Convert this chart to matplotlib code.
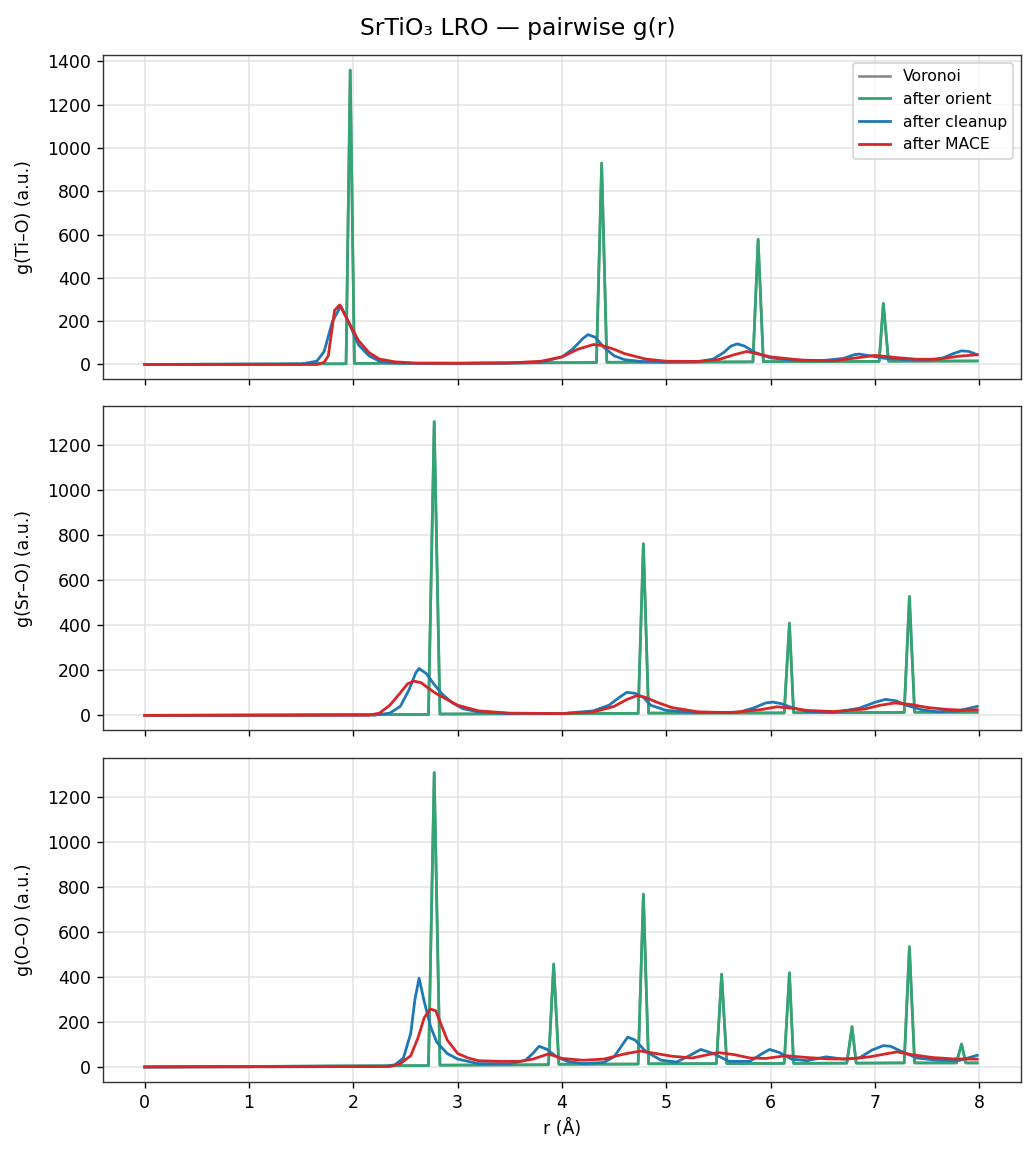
import matplotlib
matplotlib.use('Agg')
import matplotlib.pyplot as plt
from matplotlib.ticker import MultipleLocator

# Colors
c_vor = '#888888'
c_orient = '#33a474'
c_clean = '#1f77b4'
c_mace = '#d62728'

pairs = ['Ti–O', 'Sr–O', 'O–O']

# --- Ti-O ---
tio_orient_r = [0.0, 1.3, 1.6, 1.93, 1.97, 2.01, 3.0, 4.33, 4.38, 4.43, 5.83, 5.88, 5.93, 7.04, 7.08, 7.13, 7.98]
tio_orient_g = [0, 2, 3, 3, 1360, 5, 6, 9, 930, 10, 12, 578, 13, 14, 282, 15, 16]
tio_clean_r = [0.0, 1.5, 1.65, 1.72, 1.8, 1.88, 1.95, 2.05, 2.15, 2.25, 2.4, 2.6, 3.0, 3.5, 3.8, 4.0, 4.1,
               4.2, 4.25, 4.32, 4.4, 4.5, 4.6, 4.75, 5.0, 5.3, 5.45, 5.55, 5.62, 5.68, 5.75, 5.85, 6.0,
               6.2, 6.5, 6.7, 6.8, 6.85, 6.95, 7.1, 7.3, 7.5, 7.65, 7.75, 7.83, 7.9, 7.98]
tio_clean_g = [0, 2, 15, 60, 200, 270, 200, 90, 40, 15, 7, 5, 5, 6, 10, 35, 70,
               120, 138, 125, 80, 40, 22, 14, 10, 12, 25, 55, 85, 95, 85, 55, 30,
               20, 18, 28, 45, 48, 40, 28, 22, 20, 30, 50, 63, 60, 45]
tio_mace_r = [0.0, 1.65, 1.72, 1.76, 1.82, 1.87, 1.95, 2.05, 2.15, 2.25, 2.4, 2.6, 3.0, 3.5, 3.8, 4.0,
              4.15, 4.3, 4.38, 4.5, 4.6, 4.8, 5.0, 5.3, 5.5, 5.65, 5.77, 5.85, 6.0, 6.3, 6.6, 6.85, 7.0,
              7.2, 7.4, 7.6, 7.8, 7.98]
tio_mace_g = [0, 0, 10, 40, 250, 275, 200, 110, 55, 25, 12, 6, 5, 7, 15, 35,
              70, 92, 88, 70, 50, 25, 15, 14, 22, 45, 60, 52, 35, 20, 17, 32, 42,
              32, 24, 24, 38, 45]

# --- Sr-O ---
sro_orient_r = [0.0, 1.3, 2.0, 2.72, 2.775, 2.83, 4.0, 4.73, 4.78, 4.83, 6.13, 6.18, 6.22, 7.28, 7.33, 7.38, 7.98]
sro_orient_g = [0, 2, 4, 4, 1303, 6, 8, 9, 761, 10, 11, 409, 12, 13, 527, 14, 14]
sro_clean_r = [0.0, 2.2, 2.35, 2.45, 2.53, 2.6, 2.63, 2.7, 2.77, 2.85, 2.95, 3.05, 3.2, 3.5, 4.0, 4.3,
               4.45, 4.55, 4.62, 4.7, 4.78, 4.85, 5.0, 5.3, 5.7, 5.85, 5.95, 6.02, 6.1, 6.2, 6.35, 6.6,
               6.85, 7.0, 7.1, 7.2, 7.3, 7.45, 7.6, 7.8, 7.98]
sro_clean_g = [0, 1, 10, 40, 110, 190, 208, 185, 140, 95, 55, 30, 15, 8, 8, 20,
               45, 80, 102, 98, 80, 45, 22, 12, 14, 35, 55, 59, 52, 35, 18, 12,
               32, 58, 71, 65, 45, 25, 16, 20, 40]
sro_mace_r = [0.0, 2.15, 2.25, 2.35, 2.45, 2.52, 2.58, 2.65, 2.72, 2.8, 2.9, 3.0, 3.2, 3.5, 4.0, 4.3,
              4.5, 4.62, 4.72, 4.8, 4.9, 5.05, 5.3, 5.6, 5.9, 6.06, 6.2, 6.35, 6.6, 6.9, 7.05, 7.19,
              7.35, 7.5, 7.7, 7.85, 7.98]
sro_mace_g = [0, 1, 10, 45, 100, 140, 152, 145, 120, 95, 70, 45, 20, 10, 8, 15,
              40, 70, 88, 80, 60, 35, 16, 12, 25, 38, 32, 22, 17, 28, 45, 55,
              48, 35, 26, 23, 25]

# --- O-O ---
oo_orient_r = [0.0, 1.3, 2.0, 2.72, 2.775, 2.83, 3.87, 3.92, 3.97, 4.73, 4.78, 4.83, 5.48, 5.53, 5.58,
               6.13, 6.18, 6.22, 6.73, 6.78, 6.82, 7.28, 7.33, 7.38, 7.78, 7.83, 7.87, 7.98]
oo_orient_g = [0, 3, 5, 6, 1310, 8, 10, 458, 12, 13, 769, 14, 15, 413, 15,
               16, 419, 16, 17, 179, 17, 18, 535, 18, 18, 102, 18, 18]
oo_clean_r = [0.0, 2.3, 2.4, 2.48, 2.55, 2.59, 2.63, 2.68, 2.74, 2.8, 2.9, 3.0, 3.2, 3.5, 3.65, 3.72,
              3.78, 3.85, 3.95, 4.05, 4.2, 4.4, 4.5, 4.58, 4.63, 4.7, 4.8, 4.95, 5.1, 5.22, 5.33, 5.45,
              5.6, 5.8, 5.92, 5.99, 6.08, 6.2, 6.35, 6.53, 6.7, 6.85, 6.97, 7.08, 7.15, 7.25, 7.4,
              7.6, 7.8, 7.98]
oo_clean_g = [0, 2, 10, 40, 150, 300, 395, 290, 180, 110, 60, 35, 15, 14, 30, 60,
              92, 80, 45, 25, 15, 20, 45, 100, 133, 120, 70, 30, 22, 50, 78, 60,
              25, 25, 60, 78, 65, 35, 28, 45, 35, 40, 75, 95, 92, 70, 40,
              30, 28, 52]
oo_mace_r = [0.0, 2.35, 2.45, 2.55, 2.62, 2.68, 2.74, 2.79, 2.84, 2.9, 3.0, 3.1, 3.2, 3.4, 3.6, 3.72,
             3.87, 4.0, 4.2, 4.4, 4.6, 4.75, 4.9, 5.05, 5.25, 5.4, 5.5, 5.65, 5.8, 5.95, 6.15, 6.35,
             6.55, 6.75, 6.95, 7.1, 7.21, 7.35, 7.55, 7.75, 7.98]
oo_mace_g = [0, 2, 15, 50, 130, 220, 258, 250, 190, 120, 60, 40, 28, 25, 25, 35,
             58, 38, 30, 35, 58, 71, 60, 48, 40, 55, 64, 55, 40, 38, 50, 42,
             36, 36, 45, 58, 67, 55, 42, 36, 35]

orient = [(tio_orient_r, tio_orient_g), (sro_orient_r, sro_orient_g), (oo_orient_r, oo_orient_g)]
voronoi = orient  # Voronoi curves coincide with the oriented ones
cleanup = [(tio_clean_r, tio_clean_g), (sro_clean_r, sro_clean_g), (oo_clean_r, oo_clean_g)]
mace = [(tio_mace_r, tio_mace_g), (sro_mace_r, sro_mace_g), (oo_mace_r, oo_mace_g)]

fig, axes = plt.subplots(3, 1, figsize=(8.28, 9.256), dpi=125, sharex=True)
fig.subplots_adjust(left=0.0995, right=0.9865, top=0.9525, bottom=0.0648, hspace=0.085)

for i, ax in enumerate(axes):
    ax.plot(*voronoi[i], color=c_vor, lw=1.5, label='Voronoi')
    ax.plot(*orient[i], color=c_orient, lw=1.6, label='after orient')
    ax.plot(*cleanup[i], color=c_clean, lw=1.6, label='after cleanup')
    ax.plot(*mace[i], color=c_mace, lw=1.6, label='after MACE')
    ax.set_ylabel(f'g({pairs[i]}) (a.u.)', fontsize=10, labelpad=8)
    ax.yaxis.set_major_locator(MultipleLocator(200))
    ax.grid(True, color='#dddddd', lw=0.9, alpha=0.8)
    ax.set_axisbelow(True)
    ax.tick_params(labelsize=10)
    for sp in ax.spines.values():
        sp.set_color('#333333')

axes[0].set_ylim(-67, 1430)
axes[1].set_ylim(-67, 1370)
axes[2].set_ylim(-67, 1375)
axes[2].set_xlim(-0.4, 8.4)
axes[2].set_xticks(range(9))
axes[2].set_xlabel('r (Å)', fontsize=10)
axes[0].legend(loc='upper right', fontsize=9)

fig.suptitle('SrTiO₃ LRO — pairwise g(r)', fontsize=13.5, y=0.985)

plt.savefig('out.png', dpi=125)
